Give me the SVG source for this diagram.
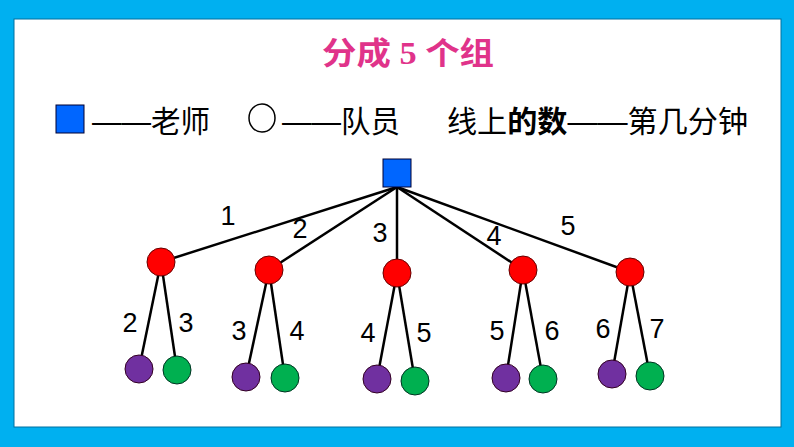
<svg xmlns="http://www.w3.org/2000/svg" width="794" height="447" viewBox="0 0 794 447">
<style>
.e{stroke:#000;stroke-width:2.5;fill:none}
.r{fill:#FF0000;stroke:#600;stroke-width:1}
.p{fill:#7030A0;stroke:#302;stroke-width:1}
.g{fill:#00B050;stroke:#032;stroke-width:1}
.n{font-family:"Liberation Sans",Arial,sans-serif;font-size:27px;fill:#000;text-anchor:middle}
.c{font-family:"Liberation Sans","Noto Sans CJK SC",sans-serif;font-size:30px;fill:#000}
</style>
<rect width="794" height="447" fill="#00B0F0"/>
<rect x="14" y="19" width="767" height="408" fill="#fff" stroke="#0070A0" stroke-width="1"/>
<text x="322" y="64" textLength="172" lengthAdjust="spacingAndGlyphs" font-family="'Liberation Serif','Noto Sans CJK SC',serif" font-weight="bold" font-size="31" fill="#E0338A">分成 5 个组</text>
<g id="legend">
<rect x="56" y="105" width="28" height="28" fill="#0066FF" stroke="#003" stroke-width="1"/>
<text class="c" x="92" y="132" textLength="118" lengthAdjust="spacingAndGlyphs">——老师</text>
<ellipse cx="262" cy="118" rx="13" ry="14" fill="#fff" stroke="#000" stroke-width="1.5"/>
<text class="c" x="282" y="132" textLength="118" lengthAdjust="spacingAndGlyphs">——队员</text>
<text class="c" x="447" y="132" textLength="301" lengthAdjust="spacingAndGlyphs">线上<tspan font-weight="bold">的数</tspan>——第几分钟</text>
</g>
<g id="connectors">
<line class="e" x1="397" y1="187" x2="161" y2="262"/>
<line class="e" x1="397" y1="187" x2="269" y2="270"/>
<line class="e" x1="397" y1="187" x2="397" y2="273"/>
<line class="e" x1="397" y1="187" x2="523" y2="270"/>
<line class="e" x1="397" y1="187" x2="630" y2="272"/>
<line class="e" x1="161" y1="262" x2="139" y2="369"/><line class="e" x1="161" y1="262" x2="177" y2="370"/>
<line class="e" x1="269" y1="270" x2="246" y2="377"/><line class="e" x1="269" y1="270" x2="285" y2="378"/>
<line class="e" x1="397" y1="273" x2="377" y2="379"/><line class="e" x1="397" y1="273" x2="415" y2="381"/>
<line class="e" x1="523" y1="270" x2="506" y2="378"/><line class="e" x1="523" y1="270" x2="543" y2="379"/>
<line class="e" x1="630" y1="272" x2="612" y2="374"/><line class="e" x1="630" y1="272" x2="650" y2="376"/>
</g>
<g id="labels">
<text class="n" x="228" y="225">1</text><text class="n" x="300" y="238">2</text><text class="n" x="380" y="242">3</text><text class="n" x="494" y="245">4</text><text class="n" x="568" y="235">5</text>
<text class="n" x="130" y="332">2</text><text class="n" x="186" y="332">3</text>
<text class="n" x="239" y="340">3</text><text class="n" x="297" y="340">4</text>
<text class="n" x="368" y="342">4</text><text class="n" x="424" y="342">5</text>
<text class="n" x="497" y="340">5</text><text class="n" x="552" y="340">6</text>
<text class="n" x="603" y="338">6</text><text class="n" x="657" y="338">7</text>
</g>
<g id="teacher"><rect x="383" y="159" width="28" height="28" fill="#0066FF" stroke="#003" stroke-width="1"/></g>
<g id="g1"><circle class="r" cx="161" cy="262" r="14"/><circle class="p" cx="139" cy="369" r="14"/><circle class="g" cx="177" cy="370" r="14"/></g>
<g id="g2"><circle class="r" cx="269" cy="270" r="14"/><circle class="p" cx="246" cy="377" r="14"/><circle class="g" cx="285" cy="378" r="14"/></g>
<g id="g3"><circle class="r" cx="397" cy="273" r="14"/><circle class="p" cx="377" cy="379" r="14"/><circle class="g" cx="415" cy="381" r="14"/></g>
<g id="g4"><circle class="r" cx="523" cy="270" r="14"/><circle class="p" cx="506" cy="378" r="14"/><circle class="g" cx="543" cy="379" r="14"/></g>
<g id="g5"><circle class="r" cx="630" cy="272" r="14"/><circle class="p" cx="612" cy="374" r="14"/><circle class="g" cx="650" cy="376" r="14"/></g>
</svg>
